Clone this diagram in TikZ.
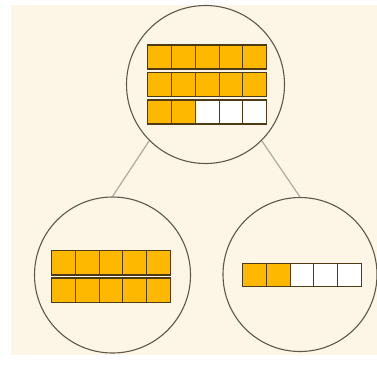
\documentclass[tikz,border=0pt]{standalone}
\usepackage{xcolor}
\usepackage{tikz}
\usetikzlibrary{positioning}

\definecolor{paper}{HTML}{FDF6E7}
\definecolor{amber}{HTML}{FFB800}
\definecolor{cellline}{HTML}{4E3A14}
\definecolor{ringline}{HTML}{5F574C}
\definecolor{linkline}{HTML}{B3AEA4}

\begin{document}
\begin{tikzpicture}[x=1pt,y=-1pt,
  ring/.style={circle,draw=ringline,line width=1.1pt,inner sep=0pt},
  link/.style={draw=linkline,line width=1.3pt},
  cell/.style={draw=cellline,line width=1.1pt},
  full/.style={cell,fill=amber},
  empty/.style={cell,fill=white}]
  \useasboundingbox (0,0) rectangle (377,365);
  \fill[white] (0,0) rectangle (377,365);
  \fill[paper] (11,5) rectangle (377,355);
  % the three circles
  \node[ring,minimum size=158pt] (top) at (205.5,84.5) {};
  \node[ring,minimum size=156pt] (lchild) at (112.5,275) {};
  \node[ring,minimum size=154pt] (rchild) at (300,274.5) {};
  \draw[link] (top.south west) -- (lchild.north);
  \draw[link] (top.south east) -- (rchild.north);
  % top: 12 of 15
  \foreach \r in {0,1}
    \foreach \c in {0,...,4}
      \draw[full] ({147.7+23.8*\c},{45+27.5*\r}) rectangle +(23.8,24);
  \foreach \c/\kind in {0/full,1/full,2/empty,3/empty,4/empty}
    \draw[\kind] ({147.7+23.8*\c},100) rectangle +(23.8,24);
  % left: two full rows
  \foreach \r in {0,1}
    \foreach \c in {0,...,4}
      \draw[full] ({51.7+23.7*\c},{250.7+27.3*\r}) rectangle +(23.7,24.3);
  % right: remainder
  \foreach \c/\kind in {0/full,1/full,2/empty,3/empty,4/empty}
    \draw[\kind] ({242.7+23.7*\c},263.3) rectangle +(23.7,23.4);
\end{tikzpicture}
\end{document}
